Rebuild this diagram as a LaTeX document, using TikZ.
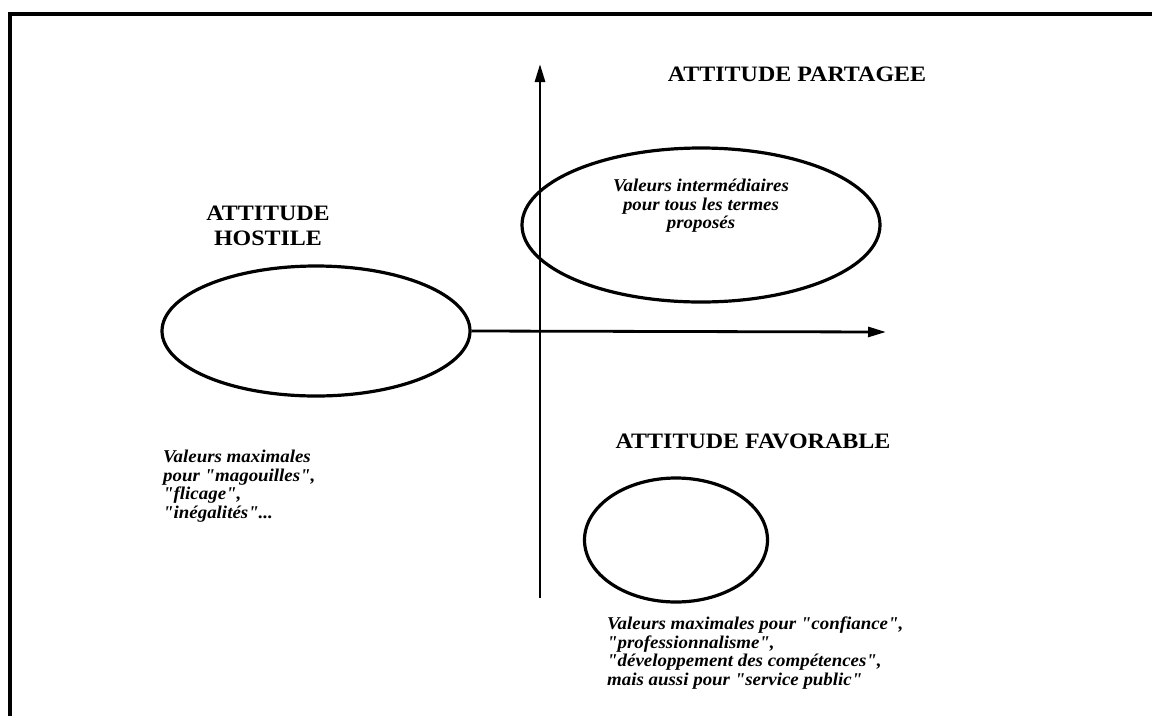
\documentclass[tikz,border=0pt]{standalone}
\usepackage{fontspec}
\setmainfont{Liberation Serif}[Ligatures=TeXOff]
\newfontfamily\titlefont{Liberation Serif}[Ligatures=TeXOff,FakeStretch=1.09]
\newfontfamily\notefont{Liberation Serif}[Ligatures=TeXOff,FakeStretch=1.05]
\usetikzlibrary{shapes.geometric,arrows.meta}
\begin{document}
\begin{tikzpicture}[x=1pt,y=-1pt,
  title/.style={font=\titlefont\fontsize{22}{25}\selectfont\bfseries, align=center, inner sep=0pt},
  note/.style={font=\notefont\fontsize{18}{18.5}\selectfont\bfseries\itshape, align=left, inner sep=0pt},
  blob/.style={draw, ellipse, line width=3.2pt, inner sep=0pt},
  axis/.style={line width=2.8pt, -{Triangle[length=18pt,width=10pt]}},
  frame/.style={line width=4pt}]
\useasboundingbox (0,0) rectangle (1152,716);
% frame
\coordinate (fb) at (10,716);
\coordinate (fc) at (10,14);
\coordinate (fr) at (1152,14);
\draw[frame] (fb) -- (fc) -- (fr);
% ellipses
\node[blob, minimum width=358pt, minimum height=154pt] (ellP) at (701,225) {};
\node[blob, minimum width=308pt, minimum height=130pt] (ellH) at (316,331) {};
\node[blob, minimum width=183pt, minimum height=124pt] (ellF) at (676,540) {};
% axes
\coordinate (vb) at (540,598);
\coordinate (vt) at (540,64);
\coordinate (ht) at (886,332);
\draw[axis] (vb) -- (vt);
\draw[axis] (ellH.east) -- (ht);
% titles
\node[title] (tP) at (797,74) {ATTITUDE PARTAGEE};
\node[title] (tH) at (268,226) {ATTITUDE\\HOSTILE};
\node[title] (tF) at (753,441) {ATTITUDE FAVORABLE};
% notes
\node[note, align=center] (nP) at (701,206) {Valeurs intermédiaires\\pour tous les termes\\proposés};
\node[note, anchor=west] (nH) at (163,486) {Valeurs maximales\\pour "magouilles",\\"flicage",\\"inégalités"...};
\node[note, anchor=west] (nF) at (607,653) {Valeurs maximales pour "confiance",\\"professionnalisme",\\"développement des compétences",\\mais aussi pour "service public"};
\end{tikzpicture}
\end{document}
